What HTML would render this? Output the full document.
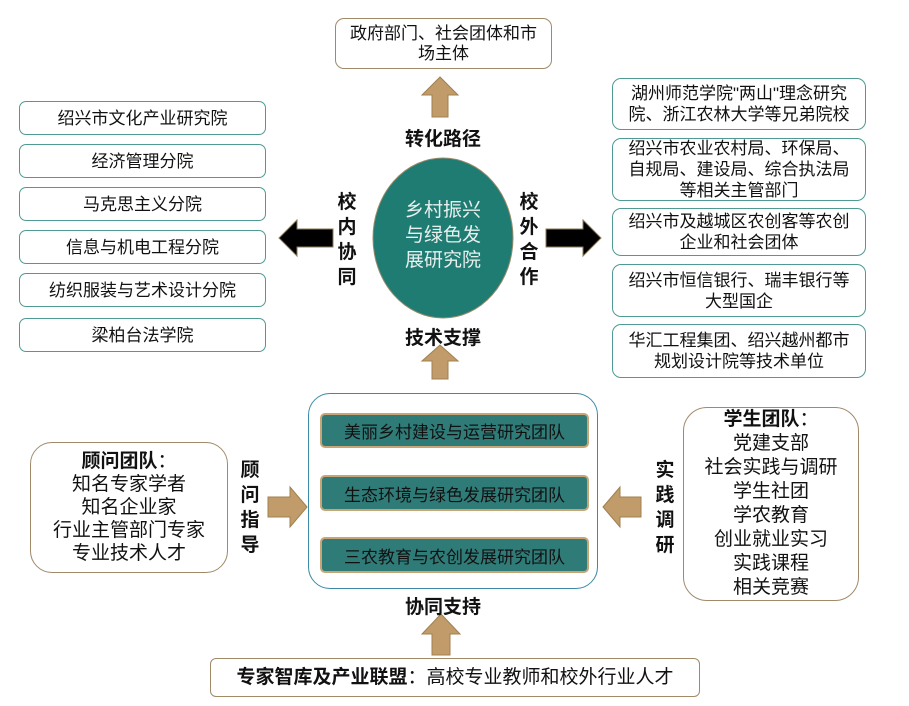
<!DOCTYPE html>
<html><head><meta charset="utf-8"><style>
body{margin:0;width:909px;height:706px;background:#fff;position:relative;overflow:hidden;font-family:"Liberation Sans","Noto Sans CJK SC",sans-serif;color:#111}
.a{position:absolute;box-sizing:border-box}
.lb{border:1.5px solid #4f9a93;border-radius:7px;background:#fff;display:flex;align-items:center;justify-content:center;text-align:center;font-size:17px;line-height:21px}
.rb{border:1.5px solid #4f9a93;border-radius:9px;background:#fff;display:flex;align-items:center;justify-content:center;text-align:center;font-size:17px;line-height:21px}
.bar{background:#2f7b78;border:2px solid #c7a576;border-radius:5px;display:flex;align-items:center;justify-content:center;font-size:17px;color:#111}
.v{font-weight:bold;font-size:19px;line-height:25px;width:24px;text-align:center}
.h{font-weight:bold;font-size:19px;text-align:center}
</style></head><body>
<div class="a rb" style="left:335px;top:18px;width:217px;height:51px;border-color:#a08a6a;line-height:20px">政府部门、社会团体和市<br>场主体</div>
<svg class="a" style="left:0;top:0" width="909" height="706">
<polygon points="440,77 422,95 432,95 432,117 448,117 448,95 458,95" fill="#c29b6a" stroke="#a0804f"/>
<polygon points="440,345 422,361 432,361 432,379 448,379 448,361 458,361" fill="#c29b6a" stroke="#a0804f"/>
<polygon points="441,614 422,634 432,634 432,655 450,655 450,634 460,634" fill="#c29b6a" stroke="#a0804f"/>
<polygon points="279,238 297,220 297,229 333,229 333,247 297,247 297,256" fill="#000" stroke="#8a7a5a"/>
<polygon points="601,238 583,220 583,229 546,229 546,247 583,247 583,256" fill="#000" stroke="#8a7a5a"/>
<polygon points="307,507 290,487 290,497 268,497 268,517 290,517 290,527" fill="#c29b6a" stroke="#a0804f"/>
<polygon points="603,507 620,487 620,497 641,497 641,517 620,517 620,527" fill="#c29b6a" stroke="#a0804f"/>
<ellipse cx="443" cy="238" rx="70" ry="80" fill="#1f7c73" stroke="#9a8a6a" stroke-width="1"/>
</svg>
<div class="a h" style="left:393px;top:124px;width:100px">转化路径</div>
<div class="a" style="left:383px;top:198px;width:120px;text-align:center;color:#e8f0ee;font-size:19px;line-height:25px">乡村振兴<br>与绿色发<br>展研究院</div>
<div class="a v" style="left:335px;top:190px">校<br>内<br>协<br>同</div>
<div class="a v" style="left:517px;top:190px">校<br>外<br>合<br>作</div>
<div class="a h" style="left:393px;top:323px;width:100px">技术支撑</div>
<div class="a lb" style="left:19px;top:101px;width:247px;height:34px">绍兴市文化产业研究院</div>
<div class="a lb" style="left:19px;top:144px;width:247px;height:34px">经济管理分院</div>
<div class="a lb" style="left:19px;top:187px;width:247px;height:34px">马克思主义分院</div>
<div class="a lb" style="left:19px;top:230px;width:247px;height:34px">信息与机电工程分院</div>
<div class="a lb" style="left:19px;top:273px;width:247px;height:34px">纺织服装与艺术设计分院</div>
<div class="a lb" style="left:19px;top:318px;width:247px;height:34px">梁柏台法学院</div>
<div class="a rb" style="left:612px;top:78px;width:254px;height:52px">湖州师范学院"两山"理念研究<br>院、浙江农林大学等兄弟院校</div>
<div class="a rb" style="left:612px;top:138px;width:254px;height:63px">绍兴市农业农村局、环保局、<br>自规局、建设局、综合执法局<br>等相关主管部门</div>
<div class="a rb" style="left:612px;top:208px;width:254px;height:48px">绍兴市及越城区农创客等农创<br>企业和社会团体</div>
<div class="a rb" style="left:612px;top:264px;width:254px;height:53px">绍兴市恒信银行、瑞丰银行等<br>大型国企</div>
<div class="a rb" style="left:612px;top:324px;width:254px;height:54px">华汇工程集团、绍兴越州都市<br>规划设计院等技术单位</div>
<div class="a" style="left:308px;top:393px;width:290px;height:196px;border:1.5px solid #3a8aa8;border-radius:22px"></div>
<div class="a bar" style="left:320px;top:413px;width:269px;height:35px">美丽乡村建设与运营研究团队</div>
<div class="a bar" style="left:320px;top:475px;width:269px;height:36px">生态环境与绿色发展研究团队</div>
<div class="a bar" style="left:320px;top:537px;width:269px;height:36px">三农教育与农创发展研究团队</div>
<div class="a rb" style="left:30px;top:442px;width:198px;height:131px;border-color:#a08a6a;border-radius:22px;font-size:19px;line-height:23px"><div><b>顾问团队</b>：<br>知名专家学者<br>知名企业家<br>行业主管部门专家<br>专业技术人才</div></div>
<div class="a v" style="left:238px;top:458px">顾<br>问<br>指<br>导</div>
<div class="a v" style="left:653px;top:458px">实<br>践<br>调<br>研</div>
<div class="a rb" style="left:683px;top:407px;width:176px;height:194px;border-color:#a08a6a;border-radius:24px;font-size:19px;line-height:24px"><div><b>学生团队</b>：<br>党建支部<br>社会实践与调研<br>学生社团<br>学农教育<br>创业就业实习<br>实践课程<br>相关竞赛</div></div>
<div class="a h" style="left:393px;top:592px;width:100px">协同支持</div>
<div class="a rb" style="left:210px;top:658px;width:490px;height:39px;border-color:#a08a6a;border-radius:6px;font-size:19px"><span><b>专家智库及产业联盟</b>：高校专业教师和校外行业人才</span></div>
</body></html>
